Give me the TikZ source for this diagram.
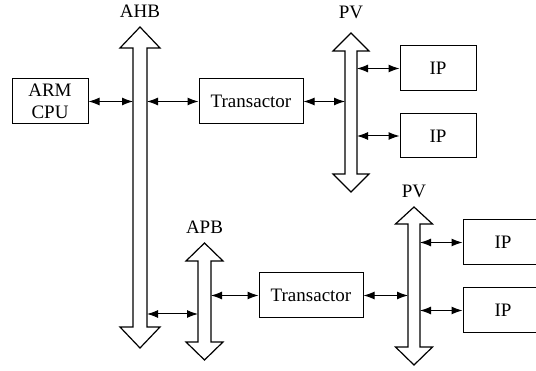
\documentclass[tikz,border=0pt]{standalone}
\usepackage{fontspec}
\setmainfont{Liberation Serif}
\usetikzlibrary{arrows.meta}
\tikzset{
  box/.style={draw, line width=1pt, inner sep=0pt, font=\fontsize{19}{22}\selectfont, align=center},
  lbl/.style={inner sep=0pt, anchor=base, font=\fontsize{19}{22}\selectfont},
  link/.style={line width=1pt, {Latex[length=11pt,width=8pt]}-{Latex[length=11pt,width=8pt]}},
  busline/.style={draw, line width=1.2pt, fill=white, line join=miter}
}
% bus: cx, half shaft, half head, top tip, top base, bottom base, bottom tip
\newcommand{\mybus}[7]{%
  \draw[busline] (#1,#4) -- (#1+#3,#5) -- (#1+#2,#5) -- (#1+#2,#6) -- (#1+#3,#6)
    -- (#1,#7) -- (#1-#3,#6) -- (#1-#2,#6) -- (#1-#2,#5) -- (#1-#3,#5) -- cycle;}
\begin{document}
\begin{tikzpicture}[x=1pt,y=-1pt]
\clip (0,0) rectangle (536,371);
\fill[white] (0,0) rectangle (536,371);
% buses
\mybus{140}{7}{20}{27}{48}{327}{348}
\mybus{351}{6}{18}{33}{51}{174}{192}
\mybus{204.5}{6.5}{18.5}{243}{261}{342}{360}
\mybus{414}{6}{18.5}{207}{224}{347}{365}
\coordinate (ahbL) at (133,0);
\coordinate (ahbR) at (147,0);
\coordinate (pv1L) at (345,0);
\coordinate (pv1R) at (357,0);
\coordinate (apbL) at (198,0);
\coordinate (apbR) at (211,0);
\coordinate (pv2L) at (408,0);
\coordinate (pv2R) at (420,0);
% labels
\node[lbl] (lahb) at (140,18) {AHB};
\node[lbl] (lpv1) at (351,19) {PV};
\node[lbl] (lapb) at (204.5,234) {APB};
\node[lbl] (lpv2) at (414,198) {PV};
% boxes
\node[box, minimum width=76pt, minimum height=45pt] (cpu) at (50,101.5) {ARM\\CPU};
\node[box, minimum width=104pt, minimum height=45pt] (tr1) at (251,101.5) {Transactor};
\node[box, minimum width=76pt, minimum height=45pt] (ip1) at (438,68.5) {IP};
\node[box, minimum width=76pt, minimum height=44pt] (ip2) at (438,136) {IP};
\node[box, minimum width=104pt, minimum height=45pt] (tr2) at (311,295.5) {Transactor};
\node[box, minimum width=80pt, minimum height=45pt] (ip3) at (503,242.5) {IP};
\node[box, minimum width=80pt, minimum height=45pt] (ip4) at (503,310.5) {IP};
% links
\draw[link] (cpu.east) -- (cpu.east -| ahbL);
\draw[link] (tr1.west -| ahbR) -- (tr1.west);
\draw[link] (tr1.east) -- (tr1.east -| pv1L);
\draw[link] (ip1.west -| pv1R) -- (ip1.west);
\draw[link] (ip2.west -| pv1R) -- (ip2.west);
\coordinate (a1) at (147,314);
\draw[link] (a1) -- (a1 -| apbL);
\draw[link] (tr2.west -| apbR) -- (tr2.west);
\draw[link] (tr2.east) -- (tr2.east -| pv2L);
\draw[link] (ip3.west -| pv2R) -- (ip3.west);
\draw[link] (ip4.west -| pv2R) -- (ip4.west);
\end{tikzpicture}
\end{document}
